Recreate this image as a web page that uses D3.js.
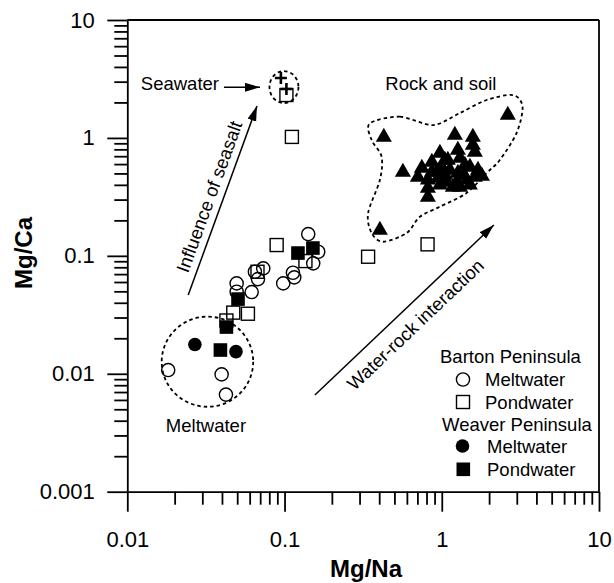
<!DOCTYPE html>
<html>
<head>
<meta charset="utf-8">
<script src="https://cdnjs.cloudflare.com/ajax/libs/d3/7.8.5/d3.min.js"></script>
<style>
body { margin: 0; background: #fff; }
svg { display: block; font-family: "Liberation Sans", Arial, sans-serif; }
</style>
</head>
<body>
<div id="chart"></div>
<script>
// values: [Mg/Na, Mg/Ca]
var bartonMelt = [
    [0.1415, 0.153], [0.1637, 0.1083], [0.1522, 0.0864], [0.1131, 0.0719], [0.1153, 0.0657],
    [0.0981, 0.0584], [0.0732, 0.0783], [0.0648, 0.0733], [0.0678, 0.0635], [0.0496, 0.0584],
    [0.0496, 0.0496], [0.0618, 0.0493], [0.0182, 0.01075], [0.0398, 0.00988], [0.0424, 0.00666]
];
var bartonPond = [
    [0.1028, 2.31], [0.1114, 1.02], [0.0891, 0.1235], [0.1358, 0.0903], [0.0673, 0.0733],
    [0.0472, 0.0330], [0.0585, 0.0323], [0.0427, 0.0283], [0.340, 0.0983], [0.812, 0.1252]
];
var weaverMelt = [[0.0269, 0.0177], [0.0491, 0.0154]];
var weaverPond = [[0.1217, 0.1056], [0.1515, 0.1165], [0.0506, 0.0430], [0.0427, 0.0249], [0.0391, 0.0159]];
var seawater = [[0.0948, 3.22], [0.1028, 2.60]];
var rockSoil = [
    [2.63, 1.564], [0.428, 1.018], [1.211, 1.058], [1.577, 1.018], [1.577, 0.871], [1.623, 0.759],
    [0.973, 0.744], [1.266, 0.790], [1.304, 0.675], [0.865, 0.625], [0.747, 0.556], [1.001, 0.566],
    [1.126, 0.534], [1.511, 0.566], [1.699, 0.534], [1.801, 0.475], [0.705, 0.466], [0.816, 0.440],
    [0.946, 0.457], [1.077, 0.423], [1.247, 0.423], [1.444, 0.440], [1.623, 0.466], [1.176, 0.383],
    [1.304, 0.383], [0.816, 0.376], [0.816, 0.315], [0.566, 0.514], [1.266, 0.504], [0.931, 0.514],
    [0.404, 0.1655], [1.093, 0.650], [1.38, 0.485], [1.05, 0.485], [1.046, 0.650], [1.403, 0.589],
    [0.865, 0.514], [1.509, 0.399], [0.973, 0.399]
];

var xTickVals = [0.01, 0.1, 1, 10];
var xTickLabels = ["0.01", "0.1", "1", "10"];
var yTickVals = [0.001, 0.01, 0.1, 1, 10];
var yTickLabels = ["0.001", "0.01", "0.1", "1", "10"];

// annotation shapes (data space)
var meltZone = [[0.01655, 0.00525], [0.0632, 0.0305]];
var seaZone = [[0.0802, 1.977], [0.1226, 3.69]];
var rockZone = [
    [0.349, 1.33], [0.542, 1.513], [0.878, 1.286], [1.304, 1.626], [1.927, 2.097], [2.831, 2.311],
    [3.264, 1.839], [2.99, 1.10], [2.341, 0.650], [1.927, 0.504], [1.438, 0.341], [0.973, 0.261],
    [0.726, 0.2146], [0.597, 0.156], [0.424, 0.1317], [0.358, 0.156], [0.340, 0.2307], [0.404, 0.4395],
    [0.4144, 0.693], [0.358, 0.960]
];
var seasaltArrow = [[0.0244, 0.0465], [0.0668, 1.865]];
var seawaterArrow = [[0.0412, 2.687], [0.0698, 2.687]];
var rockArrow = [[0.156, 0.0066], [2.144, 0.1825]];

var W = 614, H = 583;
var x = d3.scaleLog().domain([0.01, 10]).range([127.3, 599]);
var y = d3.scaleLog().domain([0.001, 10]).range([491.7, 20]);

var svg = d3.select("#chart").append("svg").attr("width", W).attr("height", H);

var defs = svg.append("defs");
defs.append("marker").attr("id", "head").attr("markerUnits", "userSpaceOnUse")
    .attr("markerWidth", 16).attr("markerHeight", 10).attr("refX", 15).attr("refY", 4.5)
    .attr("orient", "auto")
    .append("path").attr("d", "M0,0L15,4.5L0,9Z").attr("fill", "#000");

function minors(majors) {
    var out = [];
    for (var i = 0; i < majors.length - 1; i++) {
        for (var k = 2; k <= 9; k++) out.push(k * majors[i]);
    }
    return out;
}

// frame top / right
svg.append("line").attr("x1", x(0.01)).attr("x2", x(10)).attr("y1", y(10)).attr("y2", y(10))
    .attr("stroke", "#000").attr("stroke-width", 1.8);
svg.append("line").attr("x1", x(10)).attr("x2", x(10)).attr("y1", y(10)).attr("y2", y(0.001))
    .attr("stroke", "#000").attr("stroke-width", 1.8);

// x axis
var gx = svg.append("g").attr("transform", "translate(0," + y(0.001) + ")");
gx.call(d3.axisBottom(x).tickValues(xTickVals).tickSize(20).tickSizeOuter(0).tickPadding(20)
    .tickFormat(function(d, i) { return xTickLabels[i]; }));
gx.append("g").call(d3.axisBottom(x).tickValues(minors(xTickVals)).tickSize(13).tickSizeOuter(0).tickFormat(""))
    .select(".domain").remove();

// y axis
var gy = svg.append("g").attr("transform", "translate(" + x(0.01) + ",0)");
gy.call(d3.axisLeft(y).tickValues(yTickVals).tickSize(20).tickSizeOuter(0).tickPadding(12.5)
    .tickFormat(function(d, i) { return yTickLabels[i]; }));
gy.append("g").call(d3.axisLeft(y).tickValues(minors(yTickVals)).tickSize(13).tickSizeOuter(0).tickFormat(""))
    .select(".domain").remove();

svg.selectAll(".domain, .tick line").attr("stroke", "#000").attr("stroke-width", 1.8);
svg.selectAll(".tick text").attr("fill", "#000").attr("font-size", "22px")
    .attr("font-family", "'Liberation Sans', Arial, sans-serif");

// axis titles
svg.append("text").attr("x", 366).attr("y", 577).attr("text-anchor", "middle")
    .attr("font-size", "24px").attr("font-weight", "bold").text("Mg/Na");
svg.append("text").attr("transform", "translate(32,253) rotate(-90)").attr("text-anchor", "middle")
    .attr("font-size", "24px").attr("font-weight", "bold").text("Mg/Ca");

// dashed zones
function ellipse(b) {
    svg.append("ellipse")
        .attr("cx", (x(b[0][0]) + x(b[1][0])) / 2).attr("cy", (y(b[0][1]) + y(b[1][1])) / 2)
        .attr("rx", Math.abs(x(b[1][0]) - x(b[0][0])) / 2).attr("ry", Math.abs(y(b[1][1]) - y(b[0][1])) / 2)
        .attr("fill", "none").attr("stroke", "#000").attr("stroke-width", 1.8).attr("stroke-dasharray", "3.5,3");
}
ellipse(meltZone);
ellipse(seaZone);
svg.append("path")
    .attr("d", d3.line().x(function(d) { return x(d[0]); }).y(function(d) { return y(d[1]); })
        .curve(d3.curveCardinalClosed.tension(0.1))(rockZone))
    .attr("fill", "none").attr("stroke", "#000").attr("stroke-width", 1.8).attr("stroke-dasharray", "3.5,3");

// arrows
function arrow(a) {
    svg.append("line").attr("x1", x(a[0][0])).attr("y1", y(a[0][1]))
        .attr("x2", x(a[1][0])).attr("y2", y(a[1][1]))
        .attr("stroke", "#000").attr("stroke-width", 1.5).attr("marker-end", "url(#head)");
    return Math.atan2(y(a[1][1]) - y(a[0][1]), x(a[1][0]) - x(a[0][0])) * 180 / Math.PI;
}
var a1 = arrow(seasaltArrow);
arrow(seawaterArrow);
var a3 = arrow(rockArrow);

function label(t, px, py, rot, anchor) {
    svg.append("text").attr("transform", "translate(" + px + "," + py + ")" + (rot ? " rotate(" + rot + ")" : ""))
        .attr("text-anchor", anchor || "middle").attr("dy", rot ? "0.35em" : 0)
        .attr("font-size", "18.5px").attr("fill", "#000").text(t);
}
label("Influence of seasalt", x(0.0332), y(0.318), a1);
label("Water-rock interaction", x(0.68), y(0.0262), a3);
label("Seawater", x(seawaterArrow[0][0]) - 5, y(seawaterArrow[0][1]) + 3, 0, "end");
label("Rock and soil", x(0.987), y(2.549));
label("Meltwater", x(0.03164), y(0.00322));

// points
function px(d) { return x(d[0]); }
function py(d) { return y(d[1]); }
var tri = d3.symbol().type(d3.symbolTriangle).size(112);
svg.append("g").selectAll("path").data(rockSoil).enter().append("path")
    .attr("d", tri).attr("transform", function(d) { return "translate(" + px(d) + "," + py(d) + ")"; })
    .attr("fill", "#000");

svg.append("g").selectAll("circle").data(bartonMelt).enter().append("circle")
    .attr("cx", px).attr("cy", py).attr("r", 6.6)
    .attr("fill", "none").attr("stroke", "#000").attr("stroke-width", 1.4);
svg.append("g").selectAll("rect").data(bartonPond).enter().append("rect")
    .attr("x", function(d) { return px(d) - 6.5; }).attr("y", function(d) { return py(d) - 6.5; })
    .attr("width", 13).attr("height", 13)
    .attr("fill", "none").attr("stroke", "#000").attr("stroke-width", 1.4);
svg.append("g").selectAll("circle").data(weaverMelt).enter().append("circle")
    .attr("cx", px).attr("cy", py).attr("r", 6.8).attr("fill", "#000");
svg.append("g").selectAll("rect").data(weaverPond).enter().append("rect")
    .attr("x", function(d) { return px(d) - 6.8; }).attr("y", function(d) { return py(d) - 6.8; })
    .attr("width", 13.6).attr("height", 13.6).attr("fill", "#000");
svg.append("g").selectAll("path").data(seawater).enter().append("path")
    .attr("d", "M-6,0H6M0,-6V6").attr("transform", function(d) { return "translate(" + px(d) + "," + py(d) + ")"; })
    .attr("stroke", "#000").attr("stroke-width", 2.6);

// legend
var lg = svg.append("g").attr("font-size", "18.5px");
lg.append("text").attr("x", 440).attr("y", 363).text("Barton Peninsula");
lg.append("circle").attr("cx", 463).attr("cy", 379.5).attr("r", 6.6).attr("fill", "none").attr("stroke", "#000").attr("stroke-width", 1.4);
lg.append("text").attr("x", 485).attr("y", 386).text("Meltwater");
lg.append("rect").attr("x", 456.5).attr("y", 395.5).attr("width", 13).attr("height", 13).attr("fill", "none").attr("stroke", "#000").attr("stroke-width", 1.4);
lg.append("text").attr("x", 485).attr("y", 408.5).text("Pondwater");
lg.append("text").attr("x", 442).attr("y", 431).text("Weaver Peninsula");
lg.append("circle").attr("cx", 462.5).attr("cy", 446).attr("r", 6.8).attr("fill", "#000");
lg.append("text").attr("x", 487).attr("y", 452.5).text("Meltwater");
lg.append("rect").attr("x", 456.5).attr("y", 462.5).attr("width", 13.6).attr("height", 13.6).attr("fill", "#000");
lg.append("text").attr("x", 487).attr("y", 476).text("Pondwater");
</script>
</body>
</html>
